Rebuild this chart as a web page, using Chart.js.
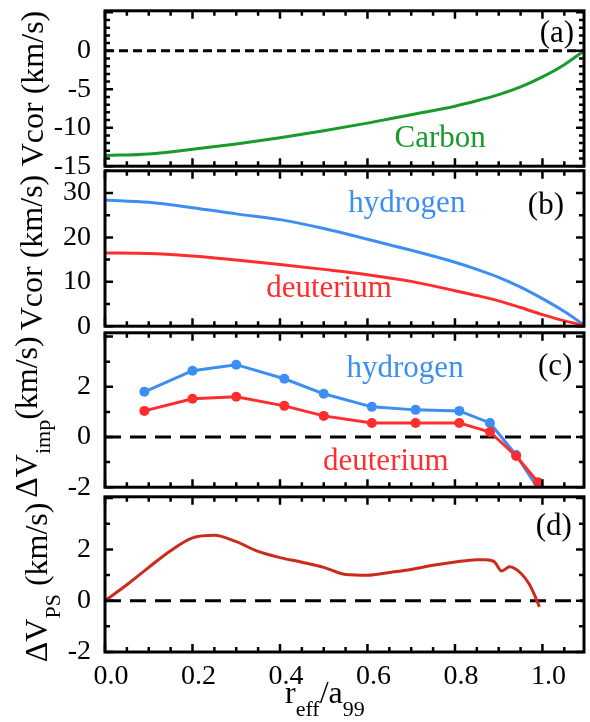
<!DOCTYPE html>
<html>
<head>
<meta charset="utf-8">
<script src="https://cdn.jsdelivr.net/npm/chart.js@4.4.0/dist/chart.umd.min.js"></script>
<style>
  html, body { margin: 0; padding: 0; background: #fff; }
  #wrap { position: relative; width: 590px; height: 722px; overflow: hidden; }
  #wrap canvas { position: absolute; left: 0; }
</style>
</head>
<body>
<div id="wrap">
  <canvas id="pa"></canvas>
  <canvas id="pb"></canvas>
  <canvas id="pc"></canvas>
  <canvas id="pd"></canvas>
</div>
<script>
// ---- data ----

// (a), (b): smooth profiles vs r_eff/a_99
const xCurve = [0, 0.1, 0.2, 0.3, 0.4, 0.5, 0.6, 0.7, 0.8, 0.85, 0.9, 0.95, 1.0, 1.05, 1.095];
const carbon = [-13.6, -13.4, -12.8, -12.1, -11.3, -10.4, -9.4, -8.3, -7.2, -6.5, -5.7, -4.7, -3.4, -1.8, 0];
const vcorH  = [28.4, 27.9, 26.7, 25.3, 24.0, 22.0, 19.6, 17.1, 14.4, 12.8, 11.0, 8.8, 6.2, 3.3, 0.3];
const vcorD  = [16.5, 16.4, 15.8, 14.9, 13.9, 12.8, 11.6, 10.1, 8.0, 6.9, 5.7, 4.2, 2.6, 1.2, 0.2];

// (c): points
const xImp = [0.09, 0.20, 0.30, 0.41, 0.50, 0.61, 0.71, 0.81, 0.88, 0.94, 0.99];
const impH = [1.80, 2.64, 2.88, 2.32, 1.72, 1.20, 1.08, 1.04, 0.56, -0.72, -2.05];
const impD = [1.04, 1.52, 1.60, 1.24, 0.84, 0.56, 0.56, 0.56, 0.20, -0.76, -1.80];

// (d)
const xPs  = [0, 0.05, 0.1, 0.15, 0.2, 0.25, 0.3, 0.35, 0.4, 0.45, 0.5, 0.55, 0.6, 0.65, 0.7, 0.75,
              0.8, 0.85, 0.87, 0.89, 0.907, 0.925, 0.95, 0.97, 0.985, 0.993];
const dVps = [0, 0.62, 1.3, 1.95, 2.45, 2.55, 2.3, 1.92, 1.68, 1.5, 1.3, 1.02, 0.99, 1.1, 1.22, 1.38,
              1.51, 1.6, 1.6, 1.52, 1.16, 1.32, 1.08, 0.64, 0.1, -0.24];

// tick labels
const xTickVals = [0, 0.2, 0.4, 0.6, 0.8, 1.0];
const yTicksA = [-15, -10, -5, 0];
const yTicksB = [0, 10, 20, 30];
const yTicksC = [-2, 0, 2];
const yTicksD = [-2, 0, 2];

// ---- layout ----
const FONT = "'Liberation Serif', 'Times New Roman', serif";
const X_MAX = 1.095;
const PLOT_LEFT = 105, PLOT_RIGHT = 584, CANVAS_W = 620;
const panelTop    = [11, 171, 333, 497];
const panelBottom = [166, 326, 487, 652];
const MARGIN = 24;   // room for Chart.js' own label padding

const pts = (xs, ys) => xs.map((x, i) => ({ x, y: ys[i] }));
const zeroLine = dash => ({
  data: [{ x: 0, y: 0 }, { x: X_MAX, y: 0 }],
  borderColor: '#000', borderWidth: 3, borderDash: dash, pointRadius: 0, order: 5
});

// ─── plugins ──────────────────────────────────────────────────────────────────

// box + inward ticks on all four sides
const framePlugin = {
  id: 'frame',
  afterDatasetsDraw(chart, args, o) {
    const { ctx, chartArea: a, scales: { x, y } } = chart;
    ctx.save();
    ctx.strokeStyle = '#000';
    ctx.lineWidth = 2.5;
    ctx.beginPath();
    for (let i = 0; i * 0.05 <= X_MAX + 1e-9; i++) {
      const px = x.getPixelForValue(i * 0.05);
      const len = i % 4 === 0 ? 8 : 5;
      ctx.moveTo(px, a.bottom); ctx.lineTo(px, a.bottom - len);
      ctx.moveTo(px, a.top);    ctx.lineTo(px, a.top + len);
    }
    for (let i = 0; y.min + i * o.minor <= y.max + 1e-9; i++) {
      const v = y.min + i * o.minor;
      const py = y.getPixelForValue(v);
      const len = Math.abs(v / o.major - Math.round(v / o.major)) < 1e-6 ? 8 : 5;
      ctx.moveTo(a.left, py);  ctx.lineTo(a.left + len, py);
      ctx.moveTo(a.right, py); ctx.lineTo(a.right - len, py);
    }
    ctx.stroke();
    ctx.lineWidth = 3;
    ctx.strokeRect(a.left, a.top, a.right - a.left, a.bottom - a.top);
    ctx.restore();
  }
};

// text notes, anchored on their baseline in data coordinates
const notesPlugin = {
  id: 'notes',
  afterDraw(chart, args, o) {
    const { ctx, scales: { x, y } } = chart;
    ctx.save();
    ctx.textAlign = 'center';
    ctx.textBaseline = 'alphabetic';
    ctx.font = '31px ' + FONT;
    (o.items || []).forEach(n => {
      ctx.fillStyle = n.color || '#000';
      ctx.fillText(n.text, x.getPixelForValue(n.x), y.getPixelForValue(n.y));
    });
    ctx.restore();
  }
};

// rotated y title with subscripts; x title on the bottom panel
function drawParts(ctx, parts, x0, base) {
  let cx = x0;
  parts.forEach(p => {
    ctx.font = (p.sub ? 22 : 32) + 'px ' + FONT;
    ctx.fillText(p.t, cx, base + (p.sub ? 13 : 0));
    cx += ctx.measureText(p.t).width;
  });
}
function partsWidth(ctx, parts) {
  return parts.reduce((w, p) => {
    ctx.font = (p.sub ? 22 : 32) + 'px ' + FONT;
    return w + ctx.measureText(p.t).width;
  }, 0);
}
const titlePlugin = {
  id: 'titles',
  afterDraw(chart, args, o) {
    const { ctx, chartArea: a } = chart;
    ctx.save();
    ctx.fillStyle = '#000';
    ctx.textAlign = 'left';
    ctx.textBaseline = 'alphabetic';
    if (o.y) {
      ctx.save();
      ctx.translate(o.y.base, (a.top + a.bottom) / 2 + o.y.shift);
      ctx.rotate(-Math.PI / 2);
      drawParts(ctx, o.y.parts, -partsWidth(ctx, o.y.parts) / 2, 0);
      ctx.restore();
    }
    if (o.x) {
      drawParts(ctx, o.x.parts, o.x.left, a.bottom + o.x.drop);
    }
    ctx.restore();
  }
};

// ─── panel builder ────────────────────────────────────────────────────────────

function panelConfig(last, opt) {
  return {
    type: 'line',
    data: { datasets: opt.datasets() },
    plugins: [framePlugin, notesPlugin, titlePlugin],
    options: {
      responsive: false,
      maintainAspectRatio: false,
      animation: false,
      devicePixelRatio: 1,
      layout: {
        padding: {
          left: 0, right: CANVAS_W - PLOT_RIGHT,
          top: MARGIN,
          bottom: last ? 0 : MARGIN
        }
      },
      elements: { line: { fill: false } },
      plugins: {
        legend: { display: false },
        tooltip: { enabled: false },
        frame: opt.frame,
        notes: { items: opt.notes },
        titles: opt.titles
      },
      scales: {
        x: {
          type: 'linear', min: 0, max: X_MAX,
          display: last,
          grid: { display: false, drawTicks: false },
          border: { display: false },
          afterBuildTicks: s => { s.ticks = xTickVals.map(v => ({ value: v })); },
          afterFit: s => { s.height = last ? 722 - panelBottom[3] : 0; },
          ticks: {
            autoSkip: false, maxRotation: 0, padding: 8, labelOffset: 6,
            color: '#000', font: { family: FONT, size: 28 },
            callback: v => Number(v).toFixed(1)
          }
        },
        y: {
          type: 'linear', min: opt.ymin, max: opt.ymax,
          grid: { display: false, drawTicks: false },
          border: { display: false },
          afterBuildTicks: s => { s.ticks = opt.yTicks.map(v => ({ value: v })); },
          afterFit: s => { s.width = PLOT_LEFT; },
          ticks: {
            autoSkip: false, padding: 14, color: '#000',
            font: { family: FONT, size: 28 }
          }
        }
      }
    }
  };
}

function sizeCanvas(cv, top, height) {
  cv.width = CANVAS_W; cv.height = height;
  cv.style.width = CANVAS_W + 'px'; cv.style.height = height + 'px';
  cv.style.top = top + 'px';
}

function panel(idx, id, opt) {
  const last = idx === 3;
  const cv = document.getElementById(id);
  let top = panelTop[idx] - MARGIN;
  let height = last ? 722 - top : panelBottom[idx] + MARGIN - top;
  sizeCanvas(cv, top, height);

  // first pass: see how far Chart.js insets the plot for its edge labels
  let chart = new Chart(cv, panelConfig(last, opt));
  const a = chart.chartArea;
  const offTop = Math.round(a.top), offBot = Math.round(height - a.bottom);
  chart.destroy();

  // second pass: canvas placed so the plot box lands on the panel's place
  top = panelTop[idx] - offTop;
  height = offTop + (panelBottom[idx] - panelTop[idx]) + offBot;
  sizeCanvas(cv, top, height);
  return new Chart(cv, panelConfig(last, opt));
}

const GREEN = '#1a9a2c', BLUE = '#3d8ef2', RED = '#ff2d2d', DARKRED = '#cc2a1c';

panel(0, 'pa', {
  ymin: -15, ymax: 5.2, yTicks: yTicksA,
  frame: { minor: 1, major: 5 },
  datasets: () => [
    { data: pts(xCurve, carbon), borderColor: GREEN, borderWidth: 3, pointRadius: 0,
      cubicInterpolationMode: 'monotone', order: 1 },
    zeroLine([9, 5])
  ],
  notes: [
    { text: 'Carbon', x: 0.766, y: -12.5, color: GREEN },
    { text: '(a)', x: 1.033, y: 1.16 }
  ],
  titles: { y: { base: 43, shift: 0, parts: [{ t: 'Vcor (km/s)' }] } }
});

panel(1, 'pb', {
  ymin: 0, ymax: 35, yTicks: yTicksB,
  frame: { minor: 5, major: 10 },
  datasets: () => [
    { data: pts(xCurve, vcorH), borderColor: BLUE, borderWidth: 3, pointRadius: 0,
      cubicInterpolationMode: 'monotone', order: 2 },
    { data: pts(xCurve, vcorD), borderColor: RED, borderWidth: 3, pointRadius: 0,
      cubicInterpolationMode: 'monotone', order: 1 }
  ],
  notes: [
    { text: 'hydrogen', x: 0.69, y: 25.7, color: BLUE },
    { text: '(b)', x: 1.008, y: 25.3 },
    { text: 'deuterium', x: 0.512, y: 6.5, color: RED }
  ],
  titles: { y: { base: 42, shift: 4, parts: [{ t: 'Vcor (km/s)' }] } }
});

panel(2, 'pc', {
  ymin: -2, ymax: 4.15, yTicks: yTicksC,
  frame: { minor: 1, major: 2 },
  datasets: () => [
    { data: pts(xImp, impH), borderColor: BLUE, backgroundColor: BLUE, borderWidth: 3,
      pointRadius: 5, pointBorderWidth: 0, clip: 0, order: 2 },
    { data: pts(xImp, impD), borderColor: RED, backgroundColor: RED, borderWidth: 3,
      pointRadius: 5, pointBorderWidth: 0, clip: 0, order: 1 },
    zeroLine([16, 9])
  ],
  notes: [
    { text: 'hydrogen', x: 0.686, y: 2.4, color: BLUE },
    { text: '(c)', x: 1.029, y: 2.48 },
    { text: 'deuterium', x: 0.642, y: -1.32, color: RED }
  ],
  titles: { y: { base: 37, shift: 7, parts: [{ t: '\u0394V' }, { t: 'imp', sub: true }, { t: '(km/s)' }] } }
});

panel(3, 'pd', {
  ymin: -2, ymax: 4.05, yTicks: yTicksD,
  frame: { minor: 1, major: 2 },
  datasets: () => [
    { data: pts(xPs, dVps), borderColor: DARKRED, borderWidth: 3, pointRadius: 0,
      cubicInterpolationMode: 'monotone', order: 1 },
    zeroLine([16, 9])
  ],
  notes: [
    { text: '(d)', x: 1.026, y: 2.57 }
  ],
  titles: {
    y: { base: 47, shift: 8, parts: [{ t: '\u0394V' }, { t: 'PS', sub: true }, { t: ' (km/s)' }] },
    x: { left: 285, drop: 51, parts: [{ t: 'r' }, { t: 'eff', sub: true }, { t: '/a' }, { t: '99', sub: true }] }
  }
});
</script>
</body>
</html>
